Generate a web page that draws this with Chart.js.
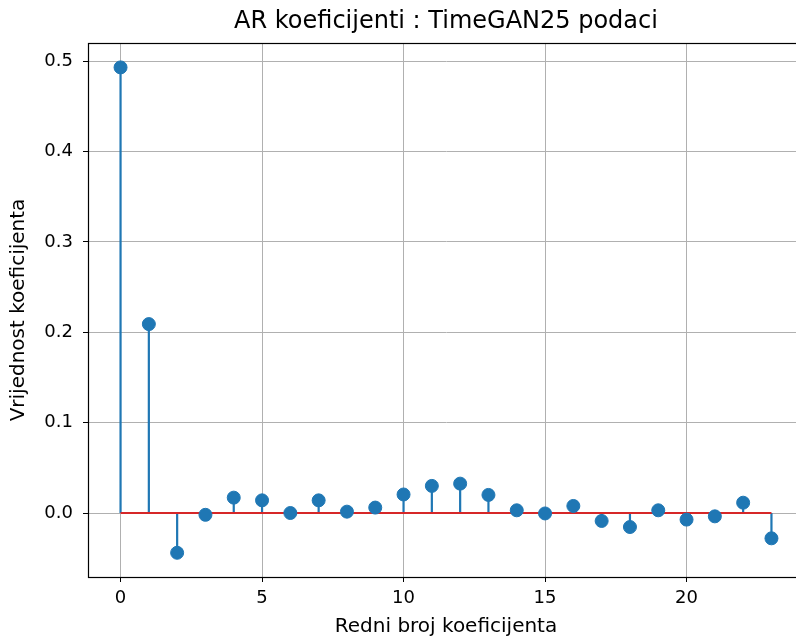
<!DOCTYPE html>
<html><head><meta charset="utf-8">
<script src="https://cdn.jsdelivr.net/npm/chart.js@4/dist/chart.umd.min.js"></script>
<style>html,body{margin:0;padding:0;overflow:hidden;background:#fff;width:796px;height:640px}canvas{display:block}</style>
</head><body>
<canvas id="c" width="816" height="640"></canvas>
<script>
const lags = [0,1,2,3,4,5,6,7,8,9,10,11,12,13,14,15,16,17,18,19,20,21,22,23];
const coefs = [0.493,0.209,-0.044,-0.002,0.017,0.014,0.000,0.014,0.0015,0.006,0.0205,0.030,0.0325,0.020,0.003,-0.0005,0.0078,-0.0088,-0.0155,0.003,-0.0073,-0.0037,0.0114,-0.028];
const xTicks = [0,5,10,15,20];
const yTicks = [0.0,0.1,0.2,0.3,0.4,0.5];
const titleText = 'AR koeficijenti : TimeGAN25 podaci';
const xLabel = 'Redni broj koeficijenta';
const yLabel = 'Vrijednost koeficijenta';

const stemPts = [];
lags.forEach((x,i)=>{stemPts.push({x:x,y:0},{x:x,y:coefs[i]},{x:x,y:null});});
const markerPts = lags.map((x,i)=>({x:x,y:coefs[i]}));
const basePts = [{x:lags[0],y:0},{x:lags[lags.length-1],y:0}];

const blue='#1f77b4', red='#d62728';
const font='DejaVu Sans';

const frame = {id:'frame', afterDraw(ch){const a=ch.chartArea,c=ch.ctx;c.save();c.strokeStyle='#000';c.lineWidth=1.2;c.strokeRect(Math.round(a.left)+0.5,Math.round(a.top)+0.5,Math.round(a.right-a.left),Math.round(a.bottom-a.top));c.restore();}};

new Chart(document.getElementById('c'),{
  type:'scatter',
  data:{datasets:[
    {type:'line',data:stemPts,borderColor:blue,borderWidth:2.2,pointRadius:0,spanGaps:false,order:3},
    {type:'line',data:basePts,borderColor:red,borderWidth:2.2,pointRadius:0,order:2},
    {type:'scatter',data:markerPts,backgroundColor:blue,borderColor:blue,pointRadius:6.5,pointHoverRadius:6.5,order:1}
  ]},
  options:{
    responsive:false,animation:false,
    layout:{padding:{left:0,right:12,top:0,bottom:0}},
    plugins:{legend:{display:false},tooltip:{enabled:false},
      title:{display:true,fullSize:false,text:titleText,color:'#000',font:{family:font,size:24,weight:'normal'},padding:{top:7.5,bottom:6.7}}},
    scales:{
      x:{type:'linear',min:-1.15,max:24.15,
        afterBuildTicks(s){s.ticks=xTicks.map(v=>({value:v}));},
        afterFit(s){s.height=63;},
        ticks:{color:'#000',font:{family:font,size:18},padding:6,callback:v=>String(v)},
        grid:{color:'#b0b0b0',lineWidth:1,tickColor:'#000',tickLength:5},
        border:{color:'#000'},
        title:{display:true,text:xLabel,color:'#000',font:{family:font,size:20},padding:{top:0,bottom:1}}},
      y:{type:'linear',min:-0.0708,max:0.52,
        afterBuildTicks(s){s.ticks=yTicks.map(v=>({value:v}));},
        afterFit(s){s.width=88;},
        ticks:{color:'#000',font:{family:font,size:18},padding:10,callback:v=>v.toFixed(1)},
        grid:{color:'#b0b0b0',lineWidth:1,tickColor:'#000',tickLength:5},
        border:{color:'#000'},
        title:{display:true,text:yLabel,color:'#000',font:{family:font,size:20},padding:{top:7,bottom:0}}}
    }
  },
  plugins:[frame]
});
</script>
</body></html>
